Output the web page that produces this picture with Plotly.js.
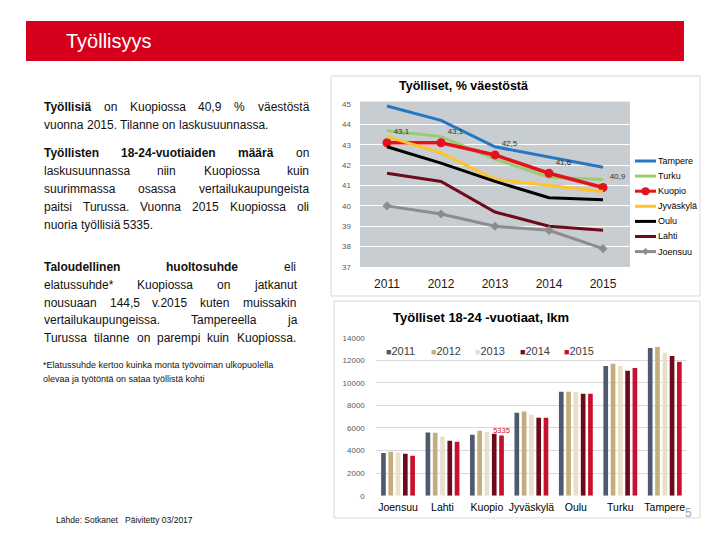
<!DOCTYPE html>
<html><head><meta charset="utf-8">
<script src="https://cdn.plot.ly/plotly-3.0.1.min.js"></script>
<style>html,body{margin:0;padding:0;background:#fff}#chart{width:720px;height:540px}</style>
</head><body><div id="chart"></div>
<script>
// ---------- DATA ----------
const years = ['2011', '2012', '2013', '2014', '2015'];
const lineCities = ['Tampere', 'Turku', 'Kuopio', 'Jyväskylä', 'Oulu', 'Lahti', 'Joensuu'];
const tampere   = [44.9, 44.2, 42.9, 42.4, 41.9];
const turku     = [43.7, 43.4, 42.3, 41.4, 41.3];
const kuopio    = [43.1, 43.1, 42.5, 41.6, 40.9];
const jyvaskyla = [43.4, 42.6, 41.3, 41.0, 40.7];
const oulu      = [42.9, 42.1, 41.2, 40.4, 40.3];
const lahti     = [41.6, 41.2, 39.7, 39.0, 38.8];
const joensuu   = [40.0, 39.6, 39.0, 38.8, 37.9];
const lineColors = ['#2577c0', '#9acd6b', '#e2131d', '#ffc425', '#000000', '#6d0a1c', '#8c8c8c'];

const barCities = ['Joensuu', 'Lahti', 'Kuopio', 'Jyväskylä', 'Oulu', 'Turku', 'Tampere'];
const bar2011 = [3780, 5610, 5410, 7360, 9220, 11490, 13090];
const bar2012 = [3900, 5580, 5760, 7450, 9220, 11700, 13180];
const bar2013 = [3810, 5230, 5640, 7180, 9190, 11490, 12670];
const bar2014 = [3720, 4870, 5500, 6910, 9040, 11080, 12380];
const bar2015 = [3550, 4790, 5335, 6910, 9040, 11310, 11880];
const barColors = ['#4f5a6f', '#c4ae7d', '#e8e0cb', '#6e0b1b', '#c8102e'];

const pageTitle = 'Työllisyys';
const lineTitle = 'Työlliset, % väestöstä';
const barTitle = 'Työlliset 18-24 -vuotiaat, lkm';
const sourceText = 'Lähde: Sotkanet&nbsp;&nbsp;&nbsp;Päivitetty 03/2017';
const pageNumber = '5';

const para1 = ['**Työllisiä** on Kuopiossa 40,9 % väestöstä', 'vuonna 2015. Tilanne on laskusuunnassa.'];
const para2 = ['**Työllisten** **18-24-vuotiaiden** **määrä** on', 'laskusuunnassa niin Kuopiossa kuin',
  'suurimmassa osassa vertailukaupungeista', 'paitsi Turussa. Vuonna 2015 Kuopiossa oli', 'nuoria työllisiä 5335.'];
const para3 = ['**Taloudellinen** **huoltosuhde** eli', 'elatussuhde* Kuopiossa on jatkanut',
  'nousuaan 144,5 v.2015 kuten muissakin', 'vertailukaupungeissa. Tampereella ja',
  'Turussa tilanne on parempi kuin Kuopiossa.'];
const footnote = ['*Elatussuhde kertoo kuinka monta työvoiman ulkopuolella', 'olevaa ja työtöntä on sataa työllistä kohti'];

// ---------- HELPERS ----------
const W = 720, H = 540;
const px = x => x / W;
const py = y => 1 - y / H;
const FONT = 'Liberation Sans, Arial, sans-serif';
const annotations = [];
const shapes = [];

const cv = document.createElement('canvas');
const ctx = cv.getContext('2d');
function measure(t, size, bold) {
  ctx.font = (bold ? 'bold ' : '') + size + 'px "Liberation Sans"';
  return ctx.measureText(t).width;
}
function addLine(line, x0, x1, y, size, justify) {
  const segs = line.split(' ').map(w => w.startsWith('**') ? [w.replace(/\*\*/g, ''), true] : [w, false]);
  const widths = segs.map(s => measure(s[0], size, s[1]));
  const total = widths.reduce((a, b) => a + b, 0);
  const space = measure(' ', size, false);
  const gap = (justify && segs.length > 1) ? (x1 - x0 - total) / (segs.length - 1) : space;
  let x = x0;
  segs.forEach((s, i) => {
    annotations.push({xref: 'paper', yref: 'paper', x: px(x), y: py(y), xanchor: 'left', yanchor: 'middle',
      text: s[1] ? '<b>' + s[0] + '</b>' : s[0], showarrow: false, borderpad: 0,
      font: {family: FONT, size: size, color: '#111'}});
    x += widths[i] + gap;
  });
}
function addPara(lines, ys, x0, x1, size, justifyLast) {
  lines.forEach((l, i) => addLine(l, x0, x1, ys[i], size, i < lines.length - 1 || justifyLast));
}

// left text
addPara(para1, [107, 125], 43, 308, 12, false);
addPara(para2, [153, 171, 189, 207, 225], 43, 308, 12, false);
addPara(para3, [267, 285, 303, 320, 338], 43, 295, 12, true);
footnote.forEach((l, i) => annotations.push({xref: 'paper', yref: 'paper', x: px(42), y: py([365, 379][i]),
  xanchor: 'left', yanchor: 'middle', text: l, showarrow: false, borderpad: 0,
  font: {family: FONT, size: 9, color: '#111'}}));
annotations.push({xref: 'paper', yref: 'paper', x: px(55), y: py(520), xanchor: 'left', yanchor: 'middle',
  text: sourceText, showarrow: false, borderpad: 0, font: {family: FONT, size: 8.5, color: '#111'}});

// banner
shapes.push({type: 'rect', xref: 'paper', yref: 'paper', x0: px(26), x1: px(684), y0: py(61), y1: py(21),
  fillcolor: '#d6001c', line: {width: 0}, layer: 'below'});
annotations.push({xref: 'paper', yref: 'paper', x: px(64), y: py(41), xanchor: 'left', yanchor: 'middle',
  text: pageTitle, showarrow: false, font: {family: FONT, size: 20, color: '#ffffff'}});

// frames
shapes.push({type: 'rect', xref: 'paper', yref: 'paper', x0: px(331), x1: px(700), y0: py(296), y1: py(76),
  line: {color: '#d9d9d9', width: 1}, fillcolor: 'rgba(0,0,0,0)', layer: 'below'});
shapes.push({type: 'rect', xref: 'paper', yref: 'paper', x0: px(334), x1: px(700), y0: py(518), y1: py(301),
  line: {color: '#d9d9d9', width: 1}, fillcolor: 'rgba(0,0,0,0)', layer: 'below'});

// grey plot background for line chart
shapes.push({type: 'rect', xref: 'x domain', yref: 'y domain', x0: 0, x1: 1, y0: 0, y1: 1.015,
  fillcolor: '#c8cdd2', line: {width: 0}, layer: 'below'});

// titles
annotations.push({xref: 'paper', yref: 'paper', x: px(463), y: py(86), xanchor: 'center', yanchor: 'middle',
  text: '<b>' + lineTitle + '</b>', showarrow: false, font: {family: FONT, size: 12.5, color: '#000'}});
annotations.push({xref: 'paper', yref: 'paper', x: px(481), y: py(317), xanchor: 'center', yanchor: 'middle',
  text: '<b>' + barTitle + '</b>', showarrow: false, font: {family: FONT, size: 13, color: '#000'}});
annotations.push({xref: 'paper', yref: 'paper', x: px(688), y: py(513), xanchor: 'center', yanchor: 'middle',
  text: pageNumber, showarrow: false, font: {family: FONT, size: 12, color: '#8ea9c1'}});

// ---------- TRACES ----------
const lineSeries = [tampere, turku, kuopio, jyvaskyla, oulu, lahti, joensuu];
const traces = [];
lineSeries.forEach((vals, i) => {
  const name = lineCities[i];
  const t = {type: 'scatter', x: years, y: vals, name: name, xaxis: 'x', yaxis: 'y',
    mode: 'lines', line: {color: lineColors[i], width: 3}, hoverinfo: 'skip', cliponaxis: false};
  if (name === 'Kuopio') {
    t.mode = 'lines+markers+text';
    t.line.width = 3.5;
    t.marker = {symbol: 'circle', size: 9, color: lineColors[i]};
    t.texttemplate = '%{y:.1f}';
    t.textposition = 'top right';
    t.textfont = {family: FONT, size: 8, color: '#333'};
  }
  if (name === 'Joensuu') {
    t.mode = 'lines+markers';
    t.marker = {symbol: 'diamond', size: 7, color: lineColors[i]};
  }
  traces.push(t);
});

const barSeries = [bar2011, bar2012, bar2013, bar2014, bar2015];
barSeries.forEach((vals, i) => {
  const t = {type: 'bar', x: barCities, y: vals, name: years[i], xaxis: 'x2', yaxis: 'y2',
    marker: {color: barColors[i]}, hoverinfo: 'skip', cliponaxis: false};
  if (years[i] === '2015') {
    t.text = barCities.map((c, j) => c === 'Kuopio' ? String(vals[j]) : '');
    t.textposition = 'outside';
    t.constraintext = 'none';
    t.textfont = {family: FONT, size: 7.5, color: '#c8102e'};
  }
  traces.push(t);
});

// ---------- CUSTOM LEGENDS ----------
lineCities.forEach((c, i) => {
  const y = 161 + i * 15.1;
  shapes.push({type: 'line', xref: 'paper', yref: 'paper', x0: px(635), x1: px(656), y0: py(y), y1: py(y),
    line: {color: lineColors[i], width: 3}});
  if (c === 'Kuopio') {
    shapes.push({type: 'circle', xref: 'paper', yref: 'paper', x0: px(641.5), x1: px(649.5), y0: py(y + 4), y1: py(y - 4),
      fillcolor: lineColors[i], line: {width: 0}});
  }
  if (c === 'Joensuu') {
    const cx = 645.5;
    shapes.push({type: 'path', xref: 'paper', yref: 'paper',
      path: `M ${px(cx - 3.5)} ${py(y)} L ${px(cx)} ${py(y - 3.5)} L ${px(cx + 3.5)} ${py(y)} L ${px(cx)} ${py(y + 3.5)} Z`,
      fillcolor: lineColors[i], line: {width: 0}});
  }
  annotations.push({xref: 'paper', yref: 'paper', x: px(656.5), y: py(y), xanchor: 'left', yanchor: 'middle',
    text: c, showarrow: false, borderpad: 0, font: {family: FONT, size: 9, color: '#000'}});
});

years.forEach((yr, i) => {
  annotations.push({xref: 'paper', yref: 'paper', x: px(385 + i * 44.5), y: py(351), xanchor: 'left', yanchor: 'middle',
    text: `<span style="color:${barColors[i]};font-size:9px">■</span>${yr}`, showarrow: false, borderpad: 0,
    font: {family: FONT, size: 11, color: '#404040'}});
});

// ---------- LAYOUT ----------
const layout = {
  width: W, height: H,
  margin: {l: 0, r: 0, t: 0, b: 0},
  paper_bgcolor: '#ffffff', plot_bgcolor: 'rgba(0,0,0,0)',
  separators: ', ',
  showlegend: false,
  barmode: 'group', bargap: 0.18, bargroupgap: 0.36,
  font: {family: FONT},
  xaxis: {domain: [0.5, 0.875], anchor: 'y', type: 'category', range: [-0.5, 4.5],
    showgrid: false, zeroline: false, showline: false, ticks: '', ticklabelstandoff: 8,
    tickfont: {family: FONT, size: 12, color: '#1a1a1a'}, fixedrange: true},
  yaxis: {domain: [py(267), py(104)], anchor: 'x', range: [37, 45], dtick: 1, tickformat: 'd',
    showgrid: true, gridcolor: '#ffffff', gridwidth: 1, zeroline: false, showline: false, ticks: '',
    ticklabelstandoff: 8, tickfont: {family: FONT, size: 8, color: '#595959'}, fixedrange: true},
  xaxis2: {domain: [px(375.8), px(687)], anchor: 'y2', type: 'category', range: [-0.5, 6.5],
    showgrid: false, zeroline: false, showline: false, ticks: '', ticklabelstandoff: 4,
    tickfont: {family: FONT, size: 10.5, color: '#000'}, fixedrange: true},
  yaxis2: {domain: [py(495.7), py(337.7)], anchor: 'x2', range: [0, 14000], dtick: 2000, tickformat: 'd',
    showgrid: true, gridcolor: '#d9d9d9', gridwidth: 1, zeroline: false, showline: false, ticks: '',
    ticklabelstandoff: 10, tickfont: {family: FONT, size: 8, color: '#595959'}, fixedrange: true},
  shapes: shapes,
  annotations: annotations
};

Plotly.newPlot('chart', traces, layout, {displayModeBar: false, staticPlot: true});
</script>
</body></html>
